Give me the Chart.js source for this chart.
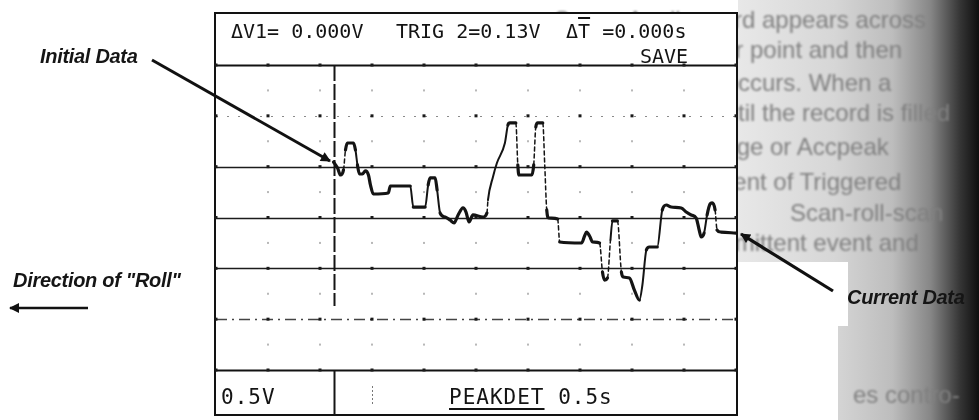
<!DOCTYPE html>
<html>
<head>
<meta charset="utf-8">
<script src="https://cdn.jsdelivr.net/npm/chart.js@4.4.1/dist/chart.umd.min.js"></script>
<style>
  html, body { margin: 0; padding: 0; background: #fff; }
  #stage { position: relative; width: 979px; height: 420px; overflow: hidden; background: #fff; }
  .paper { position: absolute; left: 738px; top: 0; width: 241px; height: 420px; z-index: 1;
    background: linear-gradient(to right, #e8e8e8 0%, #d6d6d6 40%, #bdbdbd 64%, #868686 80%, #363636 92%, #0e0e0e 100%); }
  .ptext { position: absolute; z-index: 1; font: 24px "Liberation Sans", Arial, sans-serif; color: #808080;
    white-space: nowrap; line-height: 26px; margin-top: -13px; filter: blur(1.1px); }
  .ptext .pre { position: absolute; right: 100%; top: 0; }
  .patch { position: absolute; z-index: 2; background: #fff; }
  .frame { position: absolute; left: 214px; top: 12px; width: 524px; height: 404px; box-sizing: border-box;
    border: 2px solid #121212; background: #fff; z-index: 3; }
  canvas { position: absolute; left: 0; top: 0; z-index: 4; }
  .osc { position: absolute; z-index: 5; font: 20px "DejaVu Sans Mono", "Liberation Mono", monospace;
    color: #141414; white-space: nowrap; line-height: 22px; margin-top: -11px; }
  .osc.low { font-size: 21px; letter-spacing: 1px; }
  .note { position: absolute; z-index: 6; font: italic bold 20px "Liberation Sans", Arial, sans-serif;
    color: #151515; white-space: nowrap; line-height: 22px; margin-top: -11px; letter-spacing: -0.3px; }
  svg { position: absolute; left: 0; top: 0; z-index: 6; }
</style>
</head>
<body>
<div id="stage">
  <div class="paper"></div>
  <div class="ptext" style="left:762px; top:20px;"><span class="pre">Scope A roll record&nbsp;</span>appears across</div>
  <div class="ptext" style="left:750px; top:50px;"><span class="pre">trigger&nbsp;</span>point and then</div>
  <div class="ptext" style="left:762px; top:83px;"><span class="pre">trigger occ</span>urs. When a</div>
  <div class="ptext" style="left:762px; top:113px;"><span class="pre">until&nbsp;</span>the record is filled</div>
  <div class="ptext" style="left:770px; top:147px;"><span class="pre">Average&nbsp;</span>or Accpeak</div>
  <div class="ptext" style="left:760px; top:182px;"><span class="pre">independen</span>t of Triggered</div>
  <div class="ptext" style="left:790px; top:213px;">Scan-roll-scan</div>
  <div class="ptext" style="left:760px; top:243px;"><span class="pre">intermi</span>ttent event and</div>
  <div class="ptext" style="left:853px; top:395px;">es contro-</div>
  <div class="patch" style="left:738px; top:262px; width:110px; height:64px;"></div>
  <div class="patch" style="left:738px; top:326px; width:100px; height:94px;"></div>
  <div class="frame"></div>

  <canvas id="scope" width="979" height="420"></canvas>

  <div class="osc" style="left:231px; top:31px;">ΔV1= 0.000V</div>
  <div class="osc" style="left:396px; top:31px;">TRIG 2=0.13V</div>
  <div class="osc" style="left:566px; top:31px;">Δ<span style="text-decoration:overline; text-decoration-thickness:2px;">T</span> =0.000s</div>
  <div class="osc" style="left:640px; top:56px;">SAVE</div>
  <div class="osc low" style="left:221px; top:397px;">0.5V</div>
  <div class="osc low" style="left:449px; top:397px;"><span style="text-decoration:underline; text-underline-offset:4px; text-decoration-thickness:2px;">PEAKDET</span> 0.5s</div>

  <div class="note" style="left:40px; top:56px;">Initial Data</div>
  <div class="note" style="left:13px; top:280px;">Direction of "Roll"</div>
  <div class="note" style="left:847px; top:297px;">Current Data</div>

  <svg width="979" height="420">
    <defs>
      <marker id="head" viewBox="0 0 10 10" refX="9" refY="5" markerWidth="16" markerHeight="10"
              markerUnits="userSpaceOnUse" orient="auto">
        <path d="M0,0 L10,5 L0,10 z" fill="#111"/>
      </marker>
    </defs>
    <line x1="152" y1="60" x2="330" y2="161" stroke="#111" stroke-width="3" marker-end="url(#head)"/>
    <line x1="88" y1="308" x2="10" y2="308" stroke="#111" stroke-width="2.5" marker-end="url(#head)"/>
    <line x1="833" y1="291" x2="741" y2="234" stroke="#111" stroke-width="3.2" marker-end="url(#head)"/>
  </svg>
</div>

<script>
// Roll-mode record: seconds from the left edge of the screen, volts at 0.5 V/div.
const timeS = [1.13, 1.169, 1.197, 1.226, 1.245, 1.264, 1.322, 1.341, 1.36, 1.379,
  1.408, 1.437, 1.466, 1.485, 1.513, 1.657, 1.676, 1.868, 1.897, 2.011,
  2.04, 2.059, 2.107, 2.126, 2.155, 2.203, 2.251, 2.289, 2.328, 2.375,
  2.404, 2.433, 2.471, 2.567, 2.605, 2.615, 2.663, 2.701, 2.778, 2.807,
  2.826, 2.883, 2.902, 2.912, 3.036, 3.055, 3.075, 3.094, 3.142, 3.161,
  3.18, 3.199, 3.285, 3.305, 3.515, 3.544, 3.563, 3.592, 3.621, 3.688,
  3.716, 3.736, 3.764, 3.793, 3.812, 3.86, 3.898, 3.918, 3.975, 4.023,
  4.071, 4.1, 4.138, 4.167, 4.243, 4.291, 4.33, 4.377, 4.473, 4.521,
  4.569, 4.617, 4.646, 4.665, 4.693, 4.722, 4.751, 4.77, 4.799, 4.818,
  4.856, 5.0];
const volts = [0.546, 0.487, 0.418, 0.468, 0.664, 0.733, 0.733, 0.664, 0.517, 0.428,
  0.428, 0.458, 0.418, 0.32, 0.231, 0.241, 0.31, 0.31, 0.103, 0.103,
  0.32, 0.389, 0.389, 0.271, 0.044, 0.005, -0.025, -0.054, 0.025, 0.094,
  0.054, -0.044, 0.025, 0.005, 0.044, 0.172, 0.399, 0.536, 0.733, 0.91,
  0.93, 0.93, 0.517, 0.418, 0.418, 0.517, 0.891, 0.93, 0.93, 0.517,
  0.074, -0.005, -0.015, -0.241, -0.251, -0.182, -0.143, -0.182, -0.241, -0.251,
  -0.536, -0.615, -0.595, -0.221, -0.034, -0.034, -0.536, -0.586, -0.595, -0.714,
  -0.812, -0.664, -0.32, -0.29, -0.29, 0.074, 0.123, 0.103, 0.094, 0.054,
  0.025, -0.005, -0.123, -0.192, -0.153, 0.025, 0.133, 0.143, 0.074, -0.123,
  -0.143, -0.153];

// Graticule: 10 horizontal divisions of 0.5 s, 6 vertical divisions of 0.5 V.
const timeTicks = [0, 0.5, 1, 1.5, 2, 2.5, 3, 3.5, 4, 4.5, 5];
const voltTicks = [-1.5, -1, -0.5, 0, 0.5, 1, 1.5];
const cursorTime = 1.13;   // start of the rolled record
const cursorEndVolts = -0.87;

const graticule = {
  id: 'graticule',
  beforeDatasetsDraw(chart) {
    const { ctx, chartArea: a, scales: { x, y } } = chart;
    ctx.save();
    voltTicks.forEach(v => {
      const py = Math.round(y.getPixelForValue(v)) + 0.5;
      ctx.beginPath();
      ctx.moveTo(a.left, py);
      ctx.lineTo(a.right, py);
      if (Math.abs(v) === 1.5) { ctx.strokeStyle = '#121212'; ctx.lineWidth = 2; ctx.setLineDash([]); }
      else if (v === 1) { ctx.strokeStyle = '#8a8a8a'; ctx.lineWidth = 1.2; ctx.setLineDash([2, 9]); }
      else if (v === -1) { ctx.strokeStyle = '#444'; ctx.lineWidth = 1.5; ctx.setLineDash([11, 5, 2, 5]); }
      else { ctx.strokeStyle = '#1c1c1c'; ctx.lineWidth = 1.6; ctx.setLineDash([]); }
      ctx.stroke();
    });
    ctx.setLineDash([]);
    // division dots along every horizontal line
    ctx.fillStyle = '#1a1a1a';
    timeTicks.forEach(t => {
      const px = x.getPixelForValue(t);
      voltTicks.forEach(v => {
        const py = y.getPixelForValue(v);
        ctx.fillRect(px - 1.5, py - 1.5, 3, 3);
      });
    });
    // faint minor dots between lines on the division verticals
    ctx.fillStyle = '#b8b8b8';
    timeTicks.slice(1, -1).forEach(t => {
      const px = x.getPixelForValue(t);
      [-1.25, -0.75, -0.25, 0.25, 0.75, 1.25].forEach(v => {
        ctx.fillRect(px - 1, y.getPixelForValue(v) - 1, 2, 2);
      });
    });
    // roll cursor
    const cx = Math.round(x.getPixelForValue(cursorTime)) + 0.5;
    ctx.strokeStyle = '#151515';
    ctx.lineWidth = 2;
    ctx.setLineDash([16, 3]);
    ctx.beginPath();
    ctx.moveTo(cx, a.top);
    ctx.lineTo(cx, y.getPixelForValue(cursorEndVolts));
    ctx.stroke();
    ctx.setLineDash([]);
    // divider in the lower readout panel
    ctx.beginPath();
    ctx.moveTo(cx, a.bottom);
    ctx.lineTo(cx, chart.height - 5);
    ctx.stroke();
    // short dotted mark on the next division inside the readout panel
    const mx = Math.round(x.getPixelForValue(1.5)) + 0.5;
    ctx.strokeStyle = '#777';
    ctx.lineWidth = 1;
    ctx.setLineDash([2, 2]);
    ctx.beginPath();
    ctx.moveTo(mx, a.bottom + 16);
    ctx.lineTo(mx, a.bottom + 36);
    ctx.stroke();
    ctx.restore();
  }
};

function edgeStyle(c) {
  const dt = c.p1.parsed.x - c.p0.parsed.x;
  const dv = Math.abs(c.p1.parsed.y - c.p0.parsed.y);
  const slope = dv / dt;
  if (slope > 10) return { w: 1.5, dash: [4, 3] };
  if (slope > 2.2 && dv >= 0.12) return { w: 2, dash: [] };
  return { w: 3.2, dash: [] };
}

new Chart(document.getElementById('scope'), {
  type: 'line',
  data: {
    datasets: [{
      data: timeS.map((t, i) => ({ x: t, y: volts[i] })),
      borderColor: '#141414',
      borderWidth: 3.2,
      pointRadius: 0,
      cubicInterpolationMode: 'monotone',
      borderJoinStyle: 'round',
      borderCapStyle: 'round',
      segment: {
        borderWidth: c => edgeStyle(c).w,
        borderDash: c => edgeStyle(c).dash
      }
    }]
  },
  options: {
    responsive: false,
    animation: false,
    layout: { padding: { left: 216, right: 243, top: 65, bottom: 50 } },
    plugins: { legend: { display: false }, tooltip: { enabled: false } },
    scales: {
      x: { type: 'linear', min: 0, max: 5, display: false },
      y: { min: -1.5, max: 1.5, display: false }
    }
  },
  plugins: [graticule]
});
</script>
</body>
</html>
